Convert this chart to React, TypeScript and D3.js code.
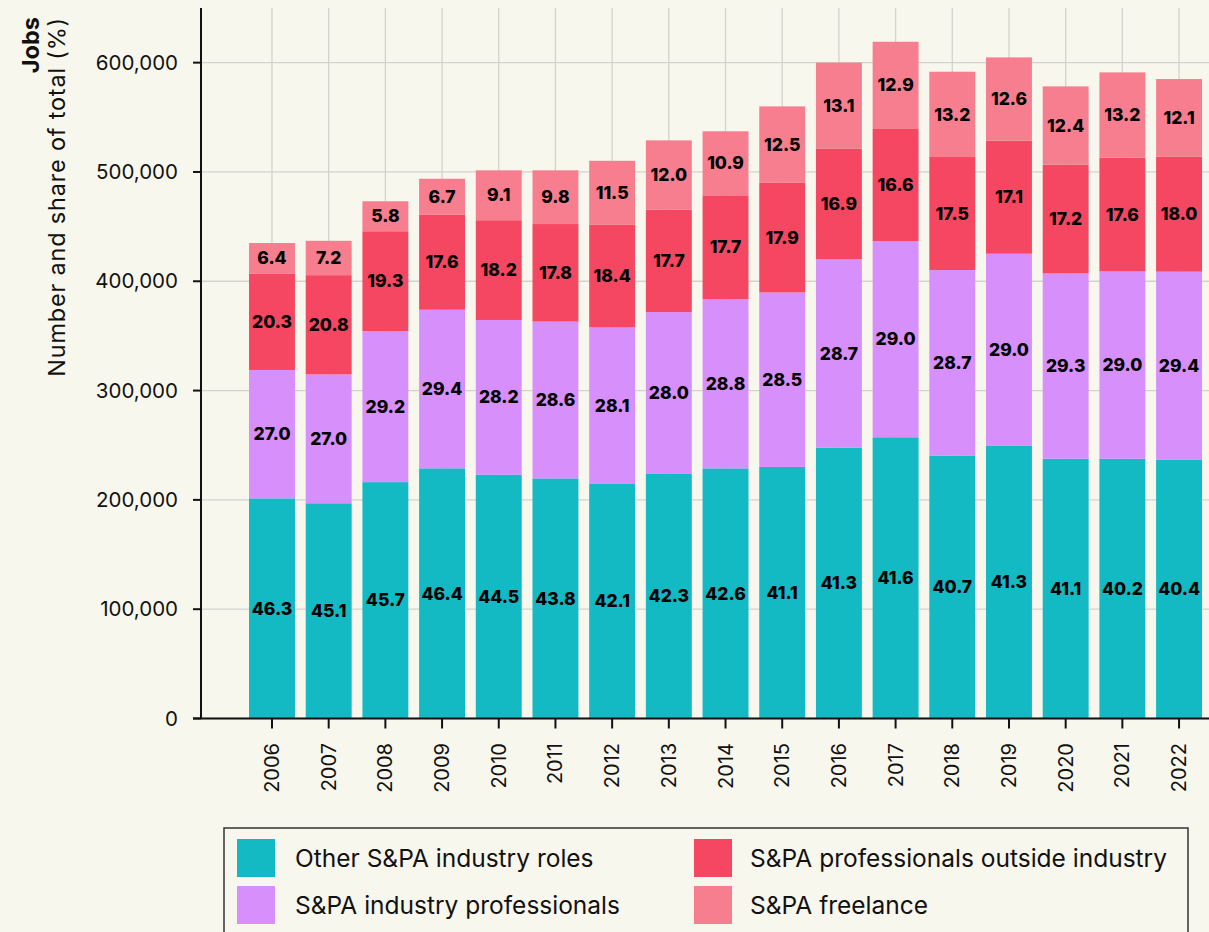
import React from "react";
import * as d3 from "d3";

const years = ["2006","2007","2008","2009","2010","2011","2012","2013","2014","2015","2016","2017","2018","2019","2020","2021","2022"];
const totals = [435000,436600,473200,493300,501500,501500,509700,528900,537200,560000,600100,618500,591100,604800,578300,591100,585600];
const otherShare = [46.3,45.1,45.7,46.4,44.5,43.8,42.1,42.3,42.6,41.1,41.3,41.6,40.7,41.3,41.1,40.2,40.4];
const industryShare = [27.0,27.0,29.2,29.4,28.2,28.6,28.1,28.0,28.8,28.5,28.7,29.0,28.7,29.0,29.3,29.0,29.4];
const outsideShare = [20.3,20.8,19.3,17.6,18.2,17.8,18.4,17.7,17.7,17.9,16.9,16.6,17.5,17.1,17.2,17.6,18.0];
const freelanceShare = [6.4,7.2,5.8,6.7,9.1,9.8,11.5,12.0,10.9,12.5,13.1,12.9,13.2,12.6,12.4,13.2,12.1];
const seriesNames = ["Other S&PA industry roles","S&PA industry professionals","S&PA professionals outside industry","S&PA freelance"];
const seriesColors = ["#13b9c3","#d78ffc","#f54762","#f77e8f"];
const yTicks = [0,100000,200000,300000,400000,500000,600000];

const FONT = "Inter, 'Open Sans', sans-serif";

export default function App() {
  const W = 1209, H = 932;
  const x = d3.scaleBand<string>().domain(years).range([243.65, 1207.4]).paddingInner(0.19).paddingOuter(0.095);
  const y = d3.scaleLinear().domain([0, 650000]).range([718.5, 8]);
  const shares = [otherShare, industryShare, outsideShare, freelanceShare];
  const rows = years.map((yr, i) => {
    const r: any = { year: yr };
    shares.forEach((s, k) => { r["s" + k] = totals[i] * s[i] / 100; });
    return r;
  });
  const stack = d3.stack<any>().keys(["s0","s1","s2","s3"]);
  const layers = stack(rows);
  const fmt = d3.format(",");
  const xAxisLeft = 193;
  return (
    <svg width={W} height={H} style={{ position: "absolute", left: 0, top: 0, background: "#f8f7ed" }} fontFamily={FONT}>
      <rect x={0} y={0} width={W} height={H} fill="#f8f7ed" />
      {yTicks.map(t => (
        <line key={"hg" + t} x1={201} x2={W} y1={y(t)} y2={y(t)} stroke="#d3d2cc" strokeWidth={1.3} />
      ))}
      {years.map(yr => (
        <line key={"vg" + yr} x1={x(yr)! + x.bandwidth() / 2} x2={x(yr)! + x.bandwidth() / 2} y1={y.range()[1]} y2={y(0)} stroke="#d3d2cc" strokeWidth={1.3} />
      ))}
      {layers.map((layer, k) => (
        <g key={"l" + k}>
          {layer.map((d, i) => (
            <rect key={i} x={x(years[i])} width={x.bandwidth()} y={y(d[1])} height={y(d[0]) - y(d[1])} fill={seriesColors[k]} />
          ))}
        </g>
      ))}
      {layers.map((layer, k) => (
        <g key={"t" + k}>
          {layer.map((d, i) => (
            <text key={i} x={x(years[i])! + x.bandwidth() / 2} y={(y(d[0]) + y(d[1])) / 2} dy="0.35em" textAnchor="middle" fontWeight={800} fontSize={17.5} fill="#000">
              {shares[k][i].toFixed(1)}
            </text>
          ))}
        </g>
      ))}
      <line x1={201} x2={201} y1={y.range()[1]} y2={y(0)} stroke="#111" strokeWidth={2} />
      <line x1={xAxisLeft} x2={W} y1={y(0)} y2={y(0)} stroke="#111" strokeWidth={2} />
      {yTicks.map(t => (
        <g key={"yt" + t}>
          <line x1={193} x2={201} y1={y(t)} y2={y(t)} stroke="#111" strokeWidth={2} />
          <text x={178} y={y(t)} dy="0.35em" textAnchor="end" fontSize={20.5} fill="#111">{fmt(t)}</text>
        </g>
      ))}
      {years.map(yr => {
        const cx = x(yr)! + x.bandwidth() / 2;
        return (
          <g key={"xt" + yr}>
            <line x1={cx} x2={cx} y1={y(0)} y2={y(0) + 10} stroke="#111" strokeWidth={2} />
            <text transform={`translate(${cx},${743}) rotate(-90)`} dy="0.35em" textAnchor="end" fontSize={20} fill="#111">{yr}</text>
          </g>
        );
      })}
      <text transform={`translate(31,17) rotate(-90)`} dy="0.35em" textAnchor="end" fontSize={23.5} fontWeight={700} fill="#111">Jobs</text>
      <text transform={`translate(57,17) rotate(-90)`} dy="0.35em" textAnchor="end" fontSize={23.5} letterSpacing={0.8} fill="#111">Number and share of total (%)</text>
      <rect x={224} y={828} width={964} height={120} fill="none" stroke="#333" strokeWidth={1.5} />
      {seriesNames.map((name, k) => {
        const col = k < 2 ? 0 : 1;
        const row = k % 2;
        const sx = col === 0 ? 237 : 694;
        const sy = 839 + row * 47;
        return (
          <g key={"lg" + k}>
            <rect x={sx} y={sy} width={38} height={38} fill={seriesColors[k]} />
            <text x={sx + (col === 0 ? 58 : 56)} y={sy + 19} dy="0.35em" fontSize={24.5} fill="#111">{name}</text>
          </g>
        );
      })}
    </svg>
  );
}
